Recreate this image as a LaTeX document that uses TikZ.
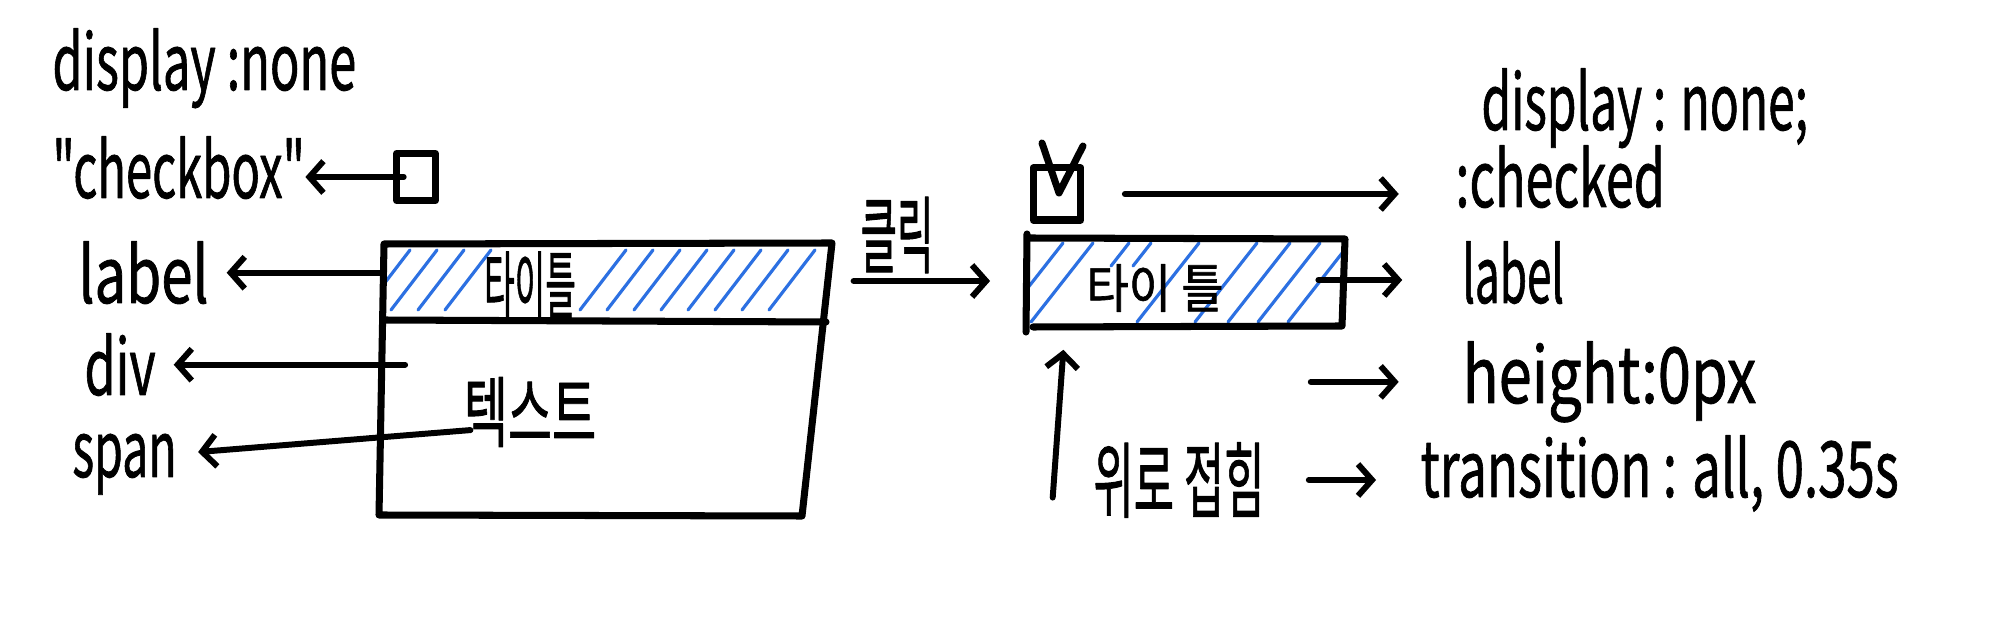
\documentclass[tikz,border=0pt]{standalone}
\usepackage{fontspec}
\setmainfont{Noto Sans CJK KR}[Ligatures=TeXOff, FakeBold=1.2]
\usetikzlibrary{calc, arrows.meta}

\definecolor{hatchblue}{RGB}{44,112,226}

\begin{document}
\begin{tikzpicture}[x=0.01cm, y=-0.01cm, line cap=round, line join=round,
  pen/.style={line width=2pt},
  arr/.style={line width=1.7pt, -{Straight Barb[length=4pt, width=9pt]}},
  hatch/.style={draw=hatchblue, line width=0.9pt},
  hw/.style={font=\fontsize{22}{26}\selectfont, inner sep=0pt, anchor=base west},
  kr/.style={font=\fontsize{#1}{#1}\selectfont, inner sep=0pt}]
  \useasboundingbox[fill=white] (0,0) rectangle (1994,628);

  % left: folded checkbox + label + div
  \node[hw, xscale=.63] (dnL) at (52,90) {display :none};
  \node[hw, xscale=.61] (cbtxt) at (52,198) {"checkbox"};
  \node[draw, pen, minimum width=11pt, minimum height=13.4pt, inner sep=0pt] (cbL) at (416,177) {};
  \draw[arr] ([xshift=3pt]cbL.west) -- (cbL.west -| cbtxt.east);

  \coordinate (bTL) at (384,244);
  \coordinate (bTR) at (832,243);
  \coordinate (bBR) at (802,516);
  \coordinate (bBL) at (379,515);
  \coordinate (hL) at (383,320);
  \coordinate (hR) at (826,322);
  \begin{scope}
    \clip (bTL) -- (bTR) -- (hR) -- (hL) -- cycle;
    \foreach \t in {410,437,464,491,626,653,...,820}
      \draw[hatch] (\t-46,310) -- (\t,250);
  \end{scope}
  \draw[pen] (bTL) -- (bTR) -- (bBR) -- (bBL) -- cycle;
  \draw[pen] (hL) -- (hR);
  \node[kr=21, xscale=.45] (ttlL) at (530,285) {타이틀};
  \node[kr=22, xscale=.62] (txt) at (530,412) {텍스트};

  \node[hw, xscale=.73] (lblL) at (78,303) {label};
  \node[hw, xscale=.65] (divL) at (84,395) {div};
  \node[hw, xscale=.60] (spanL) at (72,477) {span};
  \draw[arr, shorten >=5pt] (lblL.east -| bTL) -- (lblL.east);
  \draw[arr, shorten >=5pt] ([xshift=6pt]divL.east -| bTL) -- (divL.east);
  \draw[arr, shorten >=6pt] ([xshift=2pt, yshift=5pt]txt.south west) -- ([yshift=3pt]spanL.east);

  % click
  \node[kr=24, xscale=.47] (click) at (897,235) {클릭};
  \coordinate (bR) at (829,281);
  \coordinate (rL) at (1027,281);
  \draw[arr, shorten <=7pt, shorten >=10.5pt] (bR) -- (rL);

  % right: opened state
  \node[draw, pen, minimum width=13.6pt, minimum height=14.8pt, inner sep=0pt] (cbR) at (1057,194) {};
  \draw[pen] ($(cbR)+(-15,-51)$) -- ($(cbR)+(2,-1)$) -- ($(cbR)+(26,-48)$);
  \node[hw, xscale=.62] (dnR) at (1481,130) {display : none;};
  \node[hw, xscale=.65] (chkd) at (1455,207) {:checked};
  \draw[arr, shorten <=11.5pt, shorten >=16pt] (cbR.east) -- (cbR.east -| chkd.west);

  \coordinate (rTL) at (1028,238);
  \coordinate (rTR) at (1345,239);
  \coordinate (rBR) at (1342,326);
  \coordinate (rBL) at (1033,327);
  \coordinate (rR) at (1343,280);
  \coordinate (rB) at (1065,327);
  \begin{scope}
    \clip (rTL) -- (rTR) -- (rBR) -- (rBL) -- (1028,327) -- cycle;
    \foreach \t in {1063,1093,1199,1257,1290,1320,1350}
      \draw[hatch] (\t-62,322) -- (\t,243);
    \foreach \t in {1129,1151}
      \draw[hatch] (\t-18,266) -- (\t,243);
  \end{scope}
  \draw[pen] (rTL) -- (rTR) -- (rBR) -- (rBL);
  \draw[pen] (1027,234) -- (1026,332);
  \node[kr=15, xscale=.87] (ttlR) at (1155,288) {타이 틀};

  \node[hw, xscale=.57] (lblR) at (1462,303) {label};
  \draw[arr, shorten >=17pt] ([xshift=-7pt]rR) -- (rR -| lblR.west);

  \node[hw, xscale=.77] (hgt) at (1462,403) {height:0px};
  \draw[arr] ([xshift=-43pt]hgt.west) -- ([xshift=-18pt]hgt.west);

  \node[kr=23.5, xscale=.53] (fold) at (1179,480) {위로 접힘};
  \draw[arr, shorten >=6.5pt] ([xshift=-11.5pt, yshift=-5pt]fold.west) -- (rB);
  \node[hw, xscale=.66] (trn) at (1420,497) {transition : all, 0.35s};
  \draw[arr, shorten <=12.5pt, shorten >=12.5pt] (fold.east) -- (fold.east -| trn.west);
\end{tikzpicture}
\end{document}
